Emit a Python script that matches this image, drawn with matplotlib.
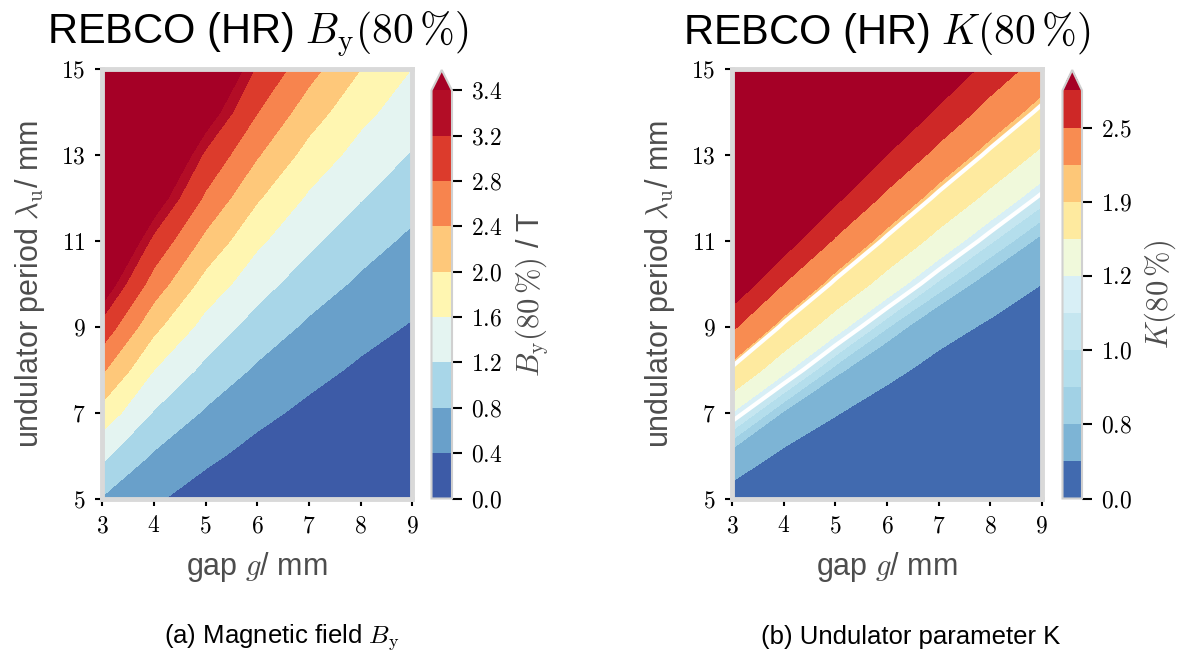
import numpy as np
import matplotlib
matplotlib.use('Agg')
import matplotlib.pyplot as plt
from matplotlib.ticker import FuncFormatter

plt.rcParams.update({
    'mathtext.fontset': 'cm',
    'font.family': ['Liberation Sans', 'DejaVu Sans'],
})

##########################
# data
gap = [3, 4, 5, 6, 7, 8, 9]                            # mm
period = [5, 6, 7, 8, 9, 10, 11, 12, 13, 14, 15]       # mm

# B_y(80 %) in T, one row per period, one column per gap
field_b = [
    [0.77, 0.45, 0.22, 0.15, 0.10, 0.07, 0.05],
    [1.28, 0.75, 0.48, 0.27, 0.17, 0.12, 0.09],
    [1.85, 1.17, 0.75, 0.50, 0.31, 0.20, 0.14],
    [2.46, 1.60, 1.10, 0.74, 0.52, 0.34, 0.22],
    [3.07, 2.10, 1.45, 1.04, 0.73, 0.53, 0.37],
    [3.68, 2.62, 1.85, 1.35, 1.00, 0.73, 0.55],
    [4.20, 3.10, 2.29, 1.67, 1.28, 0.96, 0.72],
    [4.70, 3.65, 2.73, 2.04, 1.54, 1.22, 0.94],
    [5.10, 4.10, 3.13, 2.43, 1.85, 1.45, 1.17],
    [5.50, 4.50, 3.63, 2.81, 2.19, 1.71, 1.38],
    [5.80, 4.85, 4.05, 3.15, 2.54, 2.00, 1.59],
]

# undulator parameter K(80 %), same layout
param_k = [
    [0.35, 0.21, 0.10, 0.07, 0.05, 0.03, 0.02],
    [0.72, 0.43, 0.27, 0.16, 0.10, 0.07, 0.05],
    [1.19, 0.78, 0.52, 0.33, 0.20, 0.13, 0.09],
    [1.84, 1.25, 0.85, 0.59, 0.39, 0.25, 0.16],
    [2.57, 1.83, 1.29, 0.91, 0.63, 0.45, 0.31],
    [3.43, 2.49, 1.83, 1.34, 0.97, 0.70, 0.50],
    [4.30, 3.26, 2.43, 1.83, 1.37, 1.02, 0.75],
    [5.20, 4.10, 3.11, 2.38, 1.82, 1.40, 1.06],
    [6.10, 5.00, 3.90, 2.99, 2.34, 1.82, 1.42],
    [7.00, 5.90, 4.70, 3.65, 2.90, 2.31, 1.82],
    [7.90, 6.60, 5.40, 4.30, 3.50, 2.81, 2.28],
]

levels_b = [0.0, 0.4, 0.8, 1.2, 1.6, 2.0, 2.4, 2.8, 3.2, 3.4]
levels_k = [0.0, 0.5, 0.8, 0.9, 1.0, 1.1, 1.2, 1.5, 1.9, 2.0, 2.5, 3.0]
ticks_k = [0.0, 0.8, 1.0, 1.2, 1.9, 2.5]
lines_k = [1.1, 1.9]
##########################

W, H = 1184, 657
GREY = '#4d4d4d'
SPINE = '#d9d9d9'

fig = plt.figure(figsize=(W / 100, H / 100), dpi=100)


def px_box(x0, y0, x1, y1):
    "figure box from pixel corners (origin top left)"
    return [x0 / W, 1 - y1 / H, (x1 - x0) / W, (y1 - y0) / H]


def style_axes(ax, title):
    for s in ax.spines.values():
        s.set_color(SPINE)
        s.set_linewidth(3.5)
    ax.set_xlim(gap[0], gap[-1])
    ax.set_ylim(period[0], period[-1])
    ax.set_xticks(gap)
    ax.set_yticks(period[::2])
    fmt = FuncFormatter(lambda v, p: f'${v:g}$')
    ax.xaxis.set_major_formatter(fmt)
    ax.yaxis.set_major_formatter(fmt)
    ax.tick_params(length=5, width=1.5, color='black', labelsize=17, pad=7)
    ax.set_xlabel(r'gap $g$/ mm', fontsize=22, color=GREY, labelpad=9)
    ax.set_ylabel(r'undulator period $\lambda_\mathrm{u}$/ mm',
                  fontsize=22, color=GREY, labelpad=10)
    ax.set_title(title, fontsize=30, pad=18)


def style_cbar(cb, label, fmt):
    cb.outline.set_edgecolor('#d0d0d0')
    cb.outline.set_linewidth(1.5)
    cb.ax.tick_params(length=7.5, width=1.5, color='black', labelsize=17,
                      pad=6)
    cb.ax.yaxis.set_major_formatter(FuncFormatter(lambda v, p: fmt % v))
    cb.set_label(label, fontsize=22, color=GREY, labelpad=8)


# (a) magnetic field
ax1 = fig.add_axes(px_box(102.3, 69.3, 412.3, 498.7))
cf1 = ax1.contourf(gap, period, field_b, levels=levels_b, cmap='RdYlBu_r',
                   extend='max')
style_axes(ax1, r'REBCO (HR) $B_\mathrm{y}(80\,\%)$')
cax1 = fig.add_axes(px_box(431.5, 70, 452, 498.5))
cb1 = fig.colorbar(cf1, cax=cax1, ticks=levels_b)
style_cbar(cb1, r'$B_\mathrm{y}(80\,\%)$ / T', '$%.1f$')

# (b) undulator parameter
ax2 = fig.add_axes(px_box(732.3, 69.3, 1041.7, 498.7))
cf2 = ax2.contourf(gap, period, param_k, levels=levels_k, cmap='RdYlBu_r',
                   extend='max')
ax2.contour(gap, period, param_k, levels=lines_k, colors='white',
            linewidths=3.0)
style_axes(ax2, r'REBCO (HR) $K(80\,\%)$')
cax2 = fig.add_axes(px_box(1062.5, 70, 1082, 498.5))
cb2 = fig.colorbar(cf2, cax=cax2, ticks=ticks_k)
style_cbar(cb2, r'$K(80\,\%)$', '$%.1f$')

fig.text(282 / W, 1 - 637 / H, r'(a) Magnetic field $B_\mathrm{y}$',
         ha='center', va='center', fontsize=18.5)
fig.text(911 / W, 1 - 637 / H, '(b) Undulator parameter K',
         ha='center', va='center', fontsize=18.5)

fig.savefig('out.png', dpi=100)
